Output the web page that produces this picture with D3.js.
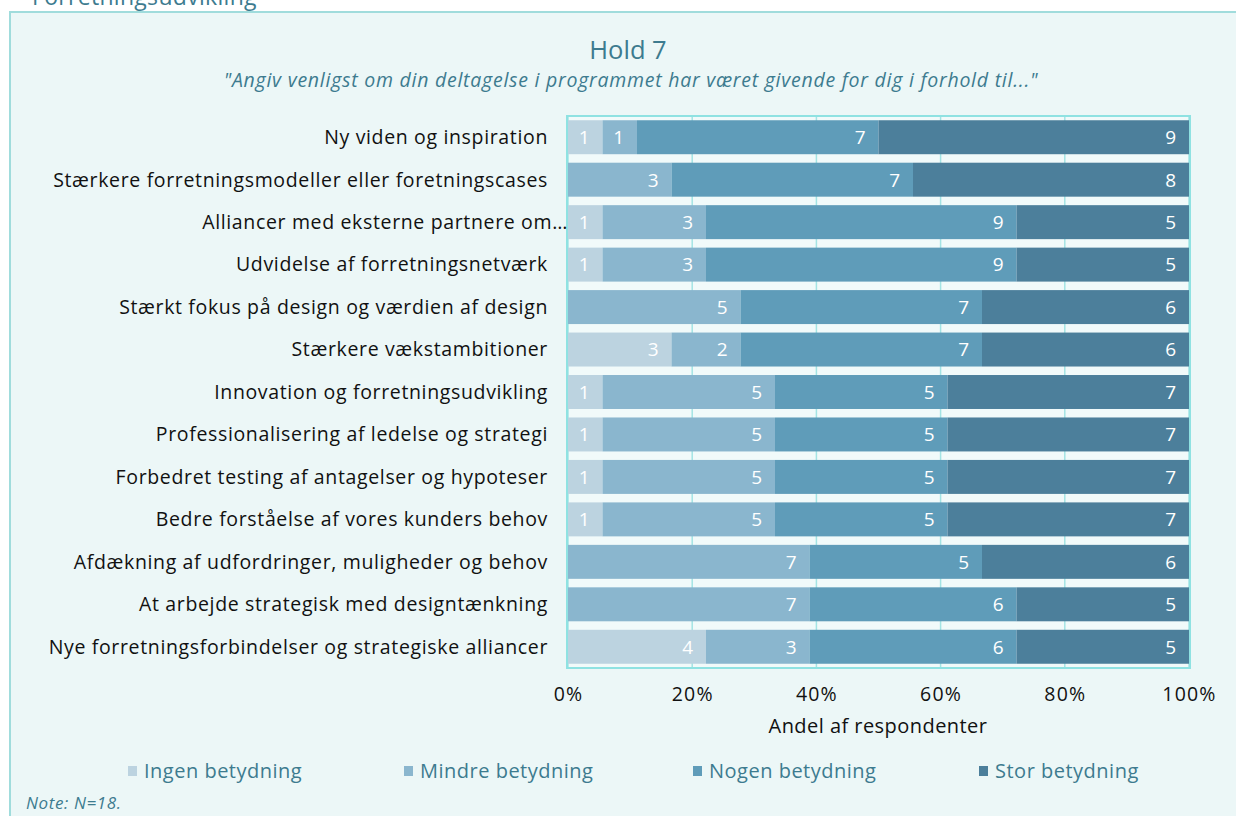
<!DOCTYPE html>
<html><head><meta charset="utf-8">
<script src="https://cdn.jsdelivr.net/npm/d3@7"></script>
<style>body{margin:0;background:#fff;} svg{display:block;font-family:"Open Sans","Noto Sans",sans-serif;}</style>
</head><body>
<svg id="c" width="1236" height="816"></svg>
<script>
const categories = [
  "Ny viden og inspiration",
  "Stærkere forretningsmodeller eller foretningscases",
  "Alliancer med eksterne partnere om…",
  "Udvidelse af forretningsnetværk",
  "Stærkt fokus på design og værdien af design",
  "Stærkere vækstambitioner",
  "Innovation og forretningsudvikling",
  "Professionalisering af ledelse og strategi",
  "Forbedret testing af antagelser og hypoteser",
  "Bedre forståelse af vores kunders behov",
  "Afdækning af udfordringer, muligheder og behov",
  "At arbejde strategisk med designtænkning",
  "Nye forretningsforbindelser og strategiske alliancer"
];
const seriesNames = ["Ingen betydning","Mindre betydning","Nogen betydning","Stor betydning"];
const ingen  = [1,0,1,1,0,3,1,1,1,1,0,0,4];
const mindre = [1,3,3,3,5,2,5,5,5,5,7,7,3];
const nogen  = [7,7,9,9,7,7,5,5,5,5,5,6,6];
const stor   = [9,8,5,5,6,6,7,7,7,7,6,5,5];
const colors = ["#bcd3e0","#8ab6ce","#5f9cb9","#4c7f9b"];
const tickValues = [0,0.2,0.4,0.6,0.8,1.0];
const titleText = "Hold 7";
const subtitleText = "\"Angiv venligst om din deltagelse i  programmet har været givende for dig i forhold til...\"";
const xTitle = "Andel af respondenter";
const noteText = "Note: N=18.";
const topText = "Forretningsudvikling";

const svg = d3.select("#c");
const teal = "#3d7b8f";

svg.append("text").attr("x",32).attr("y",5).attr("font-size",23).attr("letter-spacing",0.3).attr("fill",teal).text(topText);
svg.append("rect").attr("x",10).attr("y",12).attr("width",1240).attr("height",820)
  .attr("fill","#ecf7f7").attr("stroke","#a0dcdc").attr("stroke-width",2);

svg.append("text").attr("x",628).attr("y",59).attr("text-anchor","middle").attr("font-size",25.5).attr("fill",teal).text(titleText);
svg.append("text").attr("x",631).attr("y",87).attr("text-anchor","middle").attr("font-size",19.5).attr("letter-spacing",0.75)
  .attr("font-style","italic").attr("fill",teal).text(subtitleText);

const series = [ingen,mindre,nogen,stor];
const data = categories.map((c,i)=>{const o={cat:c}; seriesNames.forEach((s,j)=>o[s]=series[j][i]); return o;});
const stack = d3.stack().keys(seriesNames).offset(d3.stackOffsetExpand)(data);

const x = d3.scaleLinear().domain([0,1]).range([568,1189]);
const y = d3.scaleBand().domain(categories).range([116,668]).paddingInner(0.2).paddingOuter(0.1);

// plot background & grid
svg.append("rect").attr("x",567).attr("y",116).attr("width",623).attr("height",552).attr("fill","#f1fafa");
svg.append("g").selectAll("line").data(tickValues).join("line")
  .attr("x1",d=>x(d)).attr("x2",d=>x(d)).attr("y1",116).attr("y2",668)
  .attr("stroke","#a3e4e4").attr("stroke-width",1.5);

const g = svg.append("g").selectAll("g").data(stack).join("g").attr("fill",(d,i)=>colors[i]);
g.selectAll("rect").data(d=>d.map(v=>({v,key:d.key}))).join("rect")
  .attr("x",d=>x(d.v[0])).attr("width",d=>x(d.v[1])-x(d.v[0]))
  .attr("y",d=>y(d.v.data.cat)).attr("height",y.bandwidth());

svg.append("g").selectAll("g").data(stack).join("g").selectAll("text")
  .data(d=>d.map(v=>({v,key:d.key})).filter(d=>d.v.data[d.key]>0)).join("text")
  .attr("x",d=>x(d.v[1])-13).attr("y",d=>y(d.v.data.cat)+y.bandwidth()/2)
  .attr("dy","0.36em").attr("text-anchor","end").attr("fill","#fff").attr("font-size",19)
  .text(d=>d.v.data[d.key]);

svg.append("rect").attr("x",567).attr("y",116).attr("width",623).attr("height",552)
  .attr("fill","none").attr("stroke","#8fe2e2").attr("stroke-width",2);

// category labels
svg.append("g").selectAll("text").data(categories).join("text")
  .attr("x",d=> d.endsWith("…") ? 568 : 548).attr("y",d=>y(d)+y.bandwidth()/2).attr("dy","0.35em")
  .attr("text-anchor","end").attr("font-size",19.5).attr("letter-spacing",0.65).attr("fill","#111").text(d=>d);

// x axis
const ax = svg.append("g").attr("transform","translate(0,684)")
  .call(d3.axisBottom(x).tickValues(tickValues).tickFormat(d3.format(".0%")).tickSize(0));
ax.select(".domain").remove();
ax.selectAll("text").attr("font-size",19.5).attr("letter-spacing",1.2).attr("fill","#111").attr("font-family","Open Sans");
svg.append("text").attr("x",878).attr("y",733).attr("text-anchor","middle").attr("font-size",20).attr("letter-spacing",0.45).attr("fill","#111").text(xTitle);

// legend
const legX = [144,420,709,995];
const leg = svg.append("g").selectAll("g").data(seriesNames).join("g")
  .attr("transform",(d,i)=>`translate(${legX[i]},771)`);
leg.append("rect").attr("x",-16).attr("y",-5).attr("width",9).attr("height",10).attr("fill",(d,i)=>colors[i]);
leg.append("text").attr("x",0).attr("dy","0.35em").attr("font-size",20).attr("letter-spacing",0.5).attr("fill",teal).text(d=>d);

svg.append("text").attr("x",26).attr("y",809).attr("font-size",17).attr("letter-spacing",0.6).attr("font-style","italic").attr("fill",teal).text(noteText);
</script>
</body></html>
